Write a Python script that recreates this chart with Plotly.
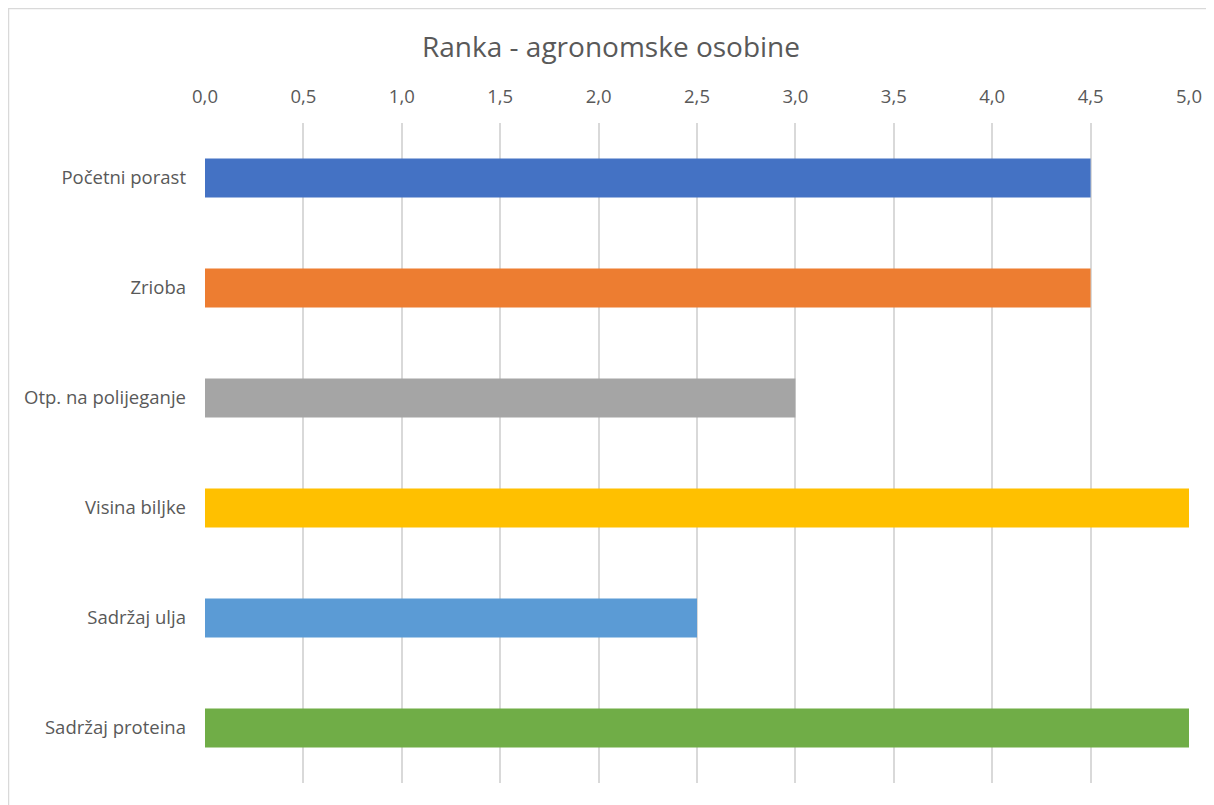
import plotly.graph_objects as go

categories = ["Početni porast", "Zrioba", "Otp. na polijeganje", "Visina biljke", "Sadržaj ulja", "Sadržaj proteina"]
values = [4.5, 4.5, 3.0, 5.0, 2.5, 5.0]
colors = ["#4472C4", "#ED7D31", "#A5A5A5", "#FFC000", "#5B9BD5", "#70AD47"]
tick_vals = [0, 0.5, 1, 1.5, 2, 2.5, 3, 3.5, 4, 4.5, 5]

font_family = "Open Sans, Segoe UI, sans-serif"

fig = go.Figure(go.Bar(
    y=categories, x=values, orientation="h",
    marker=dict(color=colors, line=dict(width=0)),
    width=0.355,
))

fig.update_layout(
    width=1206, height=797,
    margin=dict(l=197, r=25, t=115, b=22),
    paper_bgcolor="white", plot_bgcolor="white",
    separators=", ",
    showlegend=False,
    font=dict(family=font_family, color="#595959", size=18.5),
    title=dict(text="Ranka - agronomske osobine", x=0.5, xanchor="center",
               y=1 - 39/797, yanchor="middle",
               font=dict(size=28, color="#595959", family=font_family)),
    shapes=[dict(type="rect", xref="paper", yref="paper",
                 x0=-0.1997, x1=1.05, y0=-0.06, y1=1.1735,
                 line=dict(color="#D9D9D9", width=1.5), fillcolor="rgba(0,0,0,0)",
                 layer="below")],
)
fig.update_xaxes(side="top", range=[0, 5], tickvals=tick_vals, tickformat=".1f",
                 showgrid=True, gridcolor="#D9D9D9", gridwidth=1.5, zeroline=False,
                 showline=False, ticks="", ticklabelstandoff=15,
                 tickfont=dict(size=18.5, color="#595959"))
fig.update_yaxes(autorange="reversed", showgrid=False, zeroline=False, showline=False,
                 ticks="", ticklabelstandoff=18,
                 tickfont=dict(size=18.5, color="#595959"))

fig.write_html("out.html")
